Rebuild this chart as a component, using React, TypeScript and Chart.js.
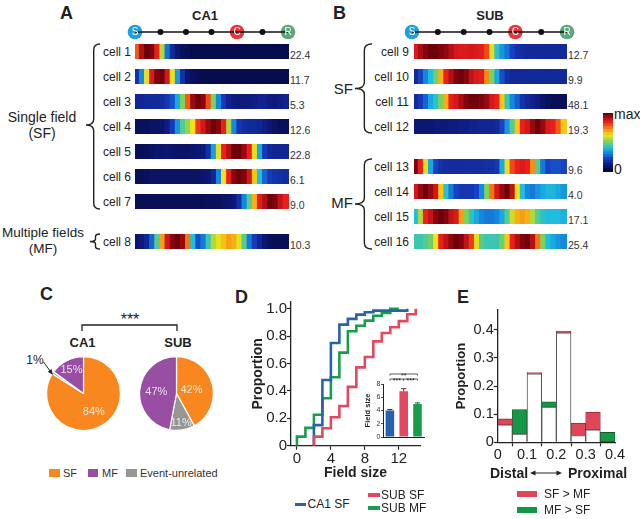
import React, { useEffect, useRef } from 'react';
import { Chart, registerables } from 'chart.js';

Chart.register(...registerables);

const FONT = '"Liberation Sans", Arial, Helvetica, sans-serif';
Chart.defaults.font.family = FONT;
Chart.defaults.color = '#222';

// ---------------- Panel A: CA1 rate maps ----------------
const CA1_CELLS = ['cell 1', 'cell 2', 'cell 3', 'cell 4', 'cell 5', 'cell 6', 'cell 7', 'cell 8'];
const CA1_PEAK_RATES = ['22.4', '11.7', '5.3', '12.6', '22.8', '6.1', '9.0', '10.3'];
const CA1_MAPS = [
  [0.78, 0.92, 1.0, 0.98, 0.85, 0.55, 0.27, 0.13, 0.07, 0.04, 0.03, 0.02, 0.02, 0.02, 0.02, 0.02, 0.02, 0.02, 0.02, 0.02, 0.02, 0.02, 0.02, 0.02, 0.02, 0.02, 0.02, 0.02, 0.02, 0.02],
  [0.15, 0.3, 0.6, 0.87, 0.98, 1.0, 0.88, 0.62, 0.33, 0.15, 0.07, 0.04, 0.03, 0.02, 0.02, 0.02, 0.02, 0.02, 0.02, 0.02, 0.02, 0.02, 0.02, 0.02, 0.02, 0.02, 0.02, 0.02, 0.02, 0.02],
  [0.12, 0.12, 0.13, 0.13, 0.13, 0.14, 0.17, 0.22, 0.35, 0.5, 0.78, 0.95, 1.0, 0.97, 0.8, 0.5, 0.3, 0.17, 0.11, 0.09, 0.08, 0.08, 0.09, 0.1, 0.11, 0.11, 0.09, 0.08, 0.1, 0.11],
  [0.04, 0.04, 0.04, 0.05, 0.05, 0.06, 0.1, 0.18, 0.32, 0.45, 0.52, 0.62, 0.82, 0.88, 0.95, 1.0, 0.97, 0.85, 0.55, 0.3, 0.17, 0.14, 0.13, 0.13, 0.12, 0.1, 0.07, 0.05, 0.04, 0.04],
  [0.03, 0.03, 0.04, 0.05, 0.06, 0.06, 0.07, 0.06, 0.05, 0.05, 0.05, 0.06, 0.07, 0.08, 0.15, 0.33, 0.6, 0.85, 0.92, 1.0, 1.0, 0.95, 0.85, 0.6, 0.35, 0.18, 0.13, 0.12, 0.12, 0.12],
  [0.03, 0.03, 0.04, 0.05, 0.05, 0.05, 0.05, 0.05, 0.05, 0.05, 0.05, 0.05, 0.05, 0.06, 0.07, 0.12, 0.3, 0.62, 0.85, 0.97, 1.0, 0.98, 0.88, 0.65, 0.38, 0.25, 0.18, 0.16, 0.15, 0.14],
  [0.03, 0.03, 0.03, 0.03, 0.03, 0.03, 0.03, 0.03, 0.03, 0.03, 0.03, 0.03, 0.03, 0.03, 0.04, 0.04, 0.04, 0.05, 0.06, 0.08, 0.15, 0.3, 0.45, 0.68, 0.86, 0.92, 1.0, 0.98, 0.9, 0.85],
  [0.06, 0.08, 0.12, 0.25, 0.45, 0.7, 0.88, 0.97, 1.0, 0.95, 0.75, 0.38, 0.22, 0.28, 0.42, 0.55, 0.6, 0.66, 0.7, 0.68, 0.6, 0.45, 0.28, 0.18, 0.12, 0.07, 0.04, 0.03, 0.03, 0.03],
];

// ---------------- Panel B: SUB rate maps ----------------
const SUB_CELLS = ['cell 9', 'cell 10', 'cell 11', 'cell 12', 'cell 13', 'cell 14', 'cell 15', 'cell 16'];
const SUB_PEAK_RATES = ['12.7', '9.9', '48.1', '19.3', '9.6', '4.0', '17.1', '25.4'];
const SUB_MAPS = [
  [0.87, 0.93, 0.97, 1.0, 1.0, 0.98, 0.96, 0.92, 0.88, 0.87, 0.87, 0.88, 0.87, 0.86, 0.8, 0.6, 0.4, 0.32, 0.27, 0.2, 0.15, 0.14, 0.13, 0.13, 0.13, 0.13, 0.13, 0.13, 0.13, 0.13],
  [0.13, 0.2, 0.3, 0.38, 0.48, 0.68, 0.85, 0.92, 0.98, 1.0, 0.97, 0.9, 0.87, 0.86, 0.72, 0.5, 0.35, 0.22, 0.15, 0.13, 0.13, 0.13, 0.13, 0.13, 0.13, 0.13, 0.13, 0.13, 0.13, 0.13],
  [0.13, 0.17, 0.25, 0.35, 0.4, 0.5, 0.68, 0.85, 0.88, 0.93, 0.98, 1.0, 1.0, 0.98, 0.95, 0.88, 0.85, 0.65, 0.42, 0.3, 0.24, 0.16, 0.13, 0.11, 0.09, 0.06, 0.04, 0.03, 0.03, 0.03],
  [0.07, 0.07, 0.07, 0.07, 0.08, 0.08, 0.08, 0.09, 0.09, 0.1, 0.1, 0.11, 0.11, 0.12, 0.12, 0.12, 0.13, 0.2, 0.32, 0.45, 0.65, 0.85, 0.88, 0.95, 1.0, 0.95, 0.87, 0.85, 0.78, 0.65],
  [0.98, 0.85, 0.6, 0.35, 0.2, 0.15, 0.14, 0.14, 0.14, 0.14, 0.14, 0.14, 0.14, 0.14, 0.15, 0.15, 0.17, 0.35, 0.6, 0.8, 0.85, 0.87, 0.85, 0.72, 0.45, 0.28, 0.2, 0.22, 0.22, 0.2],
  [0.88, 0.95, 1.0, 0.95, 0.88, 0.65, 0.4, 0.28, 0.2, 0.17, 0.17, 0.17, 0.2, 0.3, 0.5, 0.75, 0.88, 0.95, 1.0, 0.9, 0.62, 0.38, 0.3, 0.28, 0.32, 0.35, 0.37, 0.37, 0.35, 0.32],
  [0.38, 0.55, 0.85, 0.9, 0.97, 1.0, 0.98, 0.9, 0.87, 0.7, 0.5, 0.4, 0.35, 0.3, 0.28, 0.28, 0.3, 0.35, 0.45, 0.58, 0.68, 0.7, 0.68, 0.55, 0.45, 0.4, 0.38, 0.38, 0.38, 0.36],
  [0.42, 0.42, 0.45, 0.48, 0.62, 0.85, 0.9, 0.96, 1.0, 0.98, 0.9, 0.82, 0.6, 0.45, 0.42, 0.42, 0.42, 0.48, 0.65, 0.85, 0.92, 0.98, 1.0, 0.92, 0.75, 0.5, 0.38, 0.35, 0.32, 0.3],
];

const TRACK_NODES = ['S', '', '', '', 'C', '', 'R'];
const COLORBAR_LEVELS = [1, 0.95, 0.9, 0.85, 0.8, 0.75, 0.7, 0.65, 0.6, 0.55, 0.5, 0.45, 0.4, 0.35, 0.3, 0.25, 0.2, 0.15, 0.1, 0.05, 0];

// ---------------- Panel C: pies ----------------
const PIE_LABELS = ['SF', 'Event-unrelated', 'MF'];
const CA1_PIE = [84, 1, 15];
const SUB_PIE = [42, 11, 47];

// ---------------- Panel D: cumulative field size ----------------
const CA1_SF_SIZES = [2, 3, 4, 5, 6, 7, 8, 9, 13];
const CA1_SF_CUM = [0.15, 0.48, 0.75, 0.885, 0.927, 0.958, 0.975, 0.987, 1.0];
const SUB_SF_SIZES = [2, 3, 4, 5, 6, 7, 8, 9, 10, 11, 12, 13, 14];
const SUB_SF_CUM = [0.066, 0.127, 0.208, 0.29, 0.43, 0.572, 0.648, 0.762, 0.824, 0.865, 0.91, 0.96, 1.0];
const SUB_MF_SIZES = [0, 1, 2, 3, 4, 5, 6, 7, 8, 9, 10, 11, 12];
const SUB_MF_CUM = [0.066, 0.13, 0.226, 0.347, 0.5, 0.68, 0.836, 0.877, 0.914, 0.95, 0.97, 1.0, 1.0];
const D_X_TICKS = [0, 4, 8, 12];
const D_Y_TICKS = [0, 0.2, 0.4, 0.6, 0.8, 1.0];

const INSET_GROUPS = ['CA1 SF', 'SUB SF', 'SUB MF'];
const INSET_MEANS = [4.0, 6.9, 5.0];
const INSET_SEM = [0.15, 0.4, 0.15];
const INSET_TICKS = [0, 2, 4, 6, 8];
const INSET_SIG = [
  { from: 0, to: 2, text: '**', level: 2 },
  { from: 0, to: 1, text: '***', level: 1 },
  { from: 1, to: 2, text: '***', level: 1 },
];

// ---------------- Panel E: distribution along distal-proximal ----------------
const E_BIN_CENTERS = [0.025, 0.075, 0.125, 0.175, 0.225, 0.275, 0.325, 0.375];
const E_SF = [0.083, 0.029, 0.248, 0.125, 0.395, 0.068, 0.107, 0];
const E_MF = [0.062, 0.116, 0.243, 0.144, 0.389, 0.024, 0.044, 0.035];
const E_X_TICKS = [0, 0.1, 0.2, 0.3, 0.4];
const E_Y_TICKS = [0, 0.1, 0.2, 0.3, 0.4];

// ---------------- Styles ----------------
const BLUE = 'rgb(40,98,172)';
const RED = 'rgb(226,72,94)';
const GREEN = 'rgb(24,158,74)';
const E_RED = 'rgb(222,70,90)';
const E_GREEN = 'rgb(22,150,70)';
const PIE_COLORS = ['rgb(247,135,30)', 'rgb(150,150,150)', 'rgb(152,78,163)'];
const NODE_COLORS: Record<string, string> = { S: 'rgb(30,160,220)', C: 'rgb(232,52,58)', R: 'rgb(92,166,122)' };
const ROW_H = 15;
const A_ROW_X = 135;
const A_ROW_W = 154;
const A_ROW_TOPS = [44, 69, 94, 119, 144, 169, 194, 234];
const B_ROW_X = 414;
const B_ROW_W = 153;
const B_ROW_TOPS = [44, 69, 94, 119, 159, 184, 209, 234];

// colormap (jet-like, as printed)
const CMAP: [number, number, number, number][] = [
  [0.0, 5, 8, 65],
  [0.1, 15, 30, 135],
  [0.2, 25, 65, 195],
  [0.3, 20, 135, 222],
  [0.38, 30, 190, 222],
  [0.5, 125, 210, 90],
  [0.62, 250, 225, 20],
  [0.74, 245, 125, 20],
  [0.85, 235, 30, 30],
  [1.0, 110, 0, 10],
];
function jet(v: number) {
  const t = Math.max(0, Math.min(1, v));
  for (let i = 1; i < CMAP.length; i++) {
    const a = CMAP[i - 1];
    const b = CMAP[i];
    if (t <= b[0]) {
      const f = (t - a[0]) / (b[0] - a[0]);
      const m = (k: number) => Math.round(a[k] + (b[k] - a[k]) * f);
      return `rgb(${m(1)},${m(2)},${m(3)})`;
    }
  }
  return 'rgb(110,0,10)';
}

const BASE = {
  animation: false,
  responsive: false,
  events: [],
  plugins: { legend: { display: false }, tooltip: { enabled: false } },
};

function ChartCanvas({ x, y, w, h, make }: { x: number; y: number; w: number; h: number; make: () => any }) {
  const ref = useRef<HTMLCanvasElement>(null);
  useEffect(() => {
    const chart = new Chart(ref.current as HTMLCanvasElement, make());
    return () => chart.destroy();
  }, []);
  return <canvas ref={ref} width={w} height={h} style={{ position: 'absolute', left: x, top: y, width: w, height: h }} />;
}

function Label({ x, y, text, size = 12, bold = false, align = 'left', color = '#222' }: any) {
  const tx = align === 'center' ? '-50%' : align === 'right' ? '-100%' : '0';
  return (
    <div style={{ position: 'absolute', left: x, top: y, transform: `translate(${tx}, -50%)`, fontFamily: FONT, fontSize: size, fontWeight: bold ? 'bold' : 'normal', color, whiteSpace: 'nowrap', lineHeight: 1 }}>
      {text}
    </div>
  );
}

function rowConfig(values: number[], width: number) {
  return {
    type: 'bar',
    data: {
      labels: values.map((_, i) => String(i)),
      datasets: [{ data: values.map(() => 1), backgroundColor: values.map(jet), borderWidth: 0, barThickness: Math.ceil(width / values.length) + 1 }],
    },
    options: { ...BASE, layout: { padding: 0 }, scales: { x: { display: false }, y: { display: false, min: 0, max: 1 } } },
  };
}

const nodeLetters = {
  id: 'nodeLetters',
  afterDatasetsDraw(chart: any) {
    const { ctx } = chart;
    const meta = chart.getDatasetMeta(1);
    const big = TRACK_NODES.map((n, i) => ({ n, i })).filter((o) => o.n);
    meta.data.forEach((pt: any, k: number) => {
      ctx.save();
      ctx.font = `10px ${FONT}`;
      ctx.fillStyle = '#fff';
      ctx.textAlign = 'center';
      ctx.textBaseline = 'middle';
      ctx.fillText(big[k].n, pt.x, pt.y + 0.5);
      ctx.restore();
    });
  },
};

function trackConfig() {
  const all = TRACK_NODES.map((n, i) => ({ x: i, y: 0, n }));
  const big = all.filter((p) => p.n);
  const small = all.filter((p) => !p.n);
  return {
    type: 'scatter',
    data: {
      datasets: [
        { data: all.map((p) => ({ x: p.x, y: p.y })), showLine: true, borderColor: '#111', borderWidth: 1.3, pointRadius: 0, clip: false },
        { data: big.map((p) => ({ x: p.x, y: p.y })), showLine: false, pointRadius: 7.3, pointBackgroundColor: big.map((p) => NODE_COLORS[p.n]), pointBorderWidth: 0, clip: false },
        { data: small.map((p) => ({ x: p.x, y: p.y })), showLine: false, pointRadius: 3, pointBackgroundColor: '#111', pointBorderWidth: 0, clip: false },
      ],
    },
    options: { ...BASE, layout: { padding: { left: 10, right: 10, top: 0, bottom: 0 } }, scales: { x: { type: 'linear', display: false, min: 0, max: TRACK_NODES.length - 1 }, y: { display: false, min: -1, max: 1 } } },
    plugins: [nodeLetters],
  };
}

function colorbarConfig() {
  return {
    type: 'bar',
    data: { labels: COLORBAR_LEVELS.map(String), datasets: [{ data: COLORBAR_LEVELS.map(() => 1), backgroundColor: COLORBAR_LEVELS.map(jet), borderWidth: 0, barThickness: 4 }] },
    options: { ...BASE, indexAxis: 'y', layout: { padding: 0 }, scales: { x: { display: false, min: 0, max: 1 }, y: { display: false } } },
  };
}

function pieLabelPlugin(radial: number[]) {
  return {
    id: 'pieLabels',
    afterDatasetsDraw(chart: any) {
      const { ctx } = chart;
      const values = chart.data.datasets[0].data;
      chart.getDatasetMeta(0).data.forEach((arc: any, i: number) => {
        if (!radial[i]) return;
        const mid = (arc.startAngle + arc.endAngle) / 2;
        const r = arc.outerRadius * radial[i];
        ctx.save();
        ctx.font = `11px ${FONT}`;
        ctx.fillStyle = 'rgba(255,255,255,0.8)';
        ctx.textAlign = 'center';
        ctx.textBaseline = 'middle';
        ctx.fillText(values[i] + '%', arc.x + Math.cos(mid) * r, arc.y + Math.sin(mid) * r);
        ctx.restore();
      });
    },
  };
}

function pieConfig(values: number[], radial: number[]) {
  return {
    type: 'pie',
    data: { labels: PIE_LABELS, datasets: [{ data: values, backgroundColor: PIE_COLORS, borderColor: '#fff', borderWidth: 1.2 }] },
    options: { ...BASE, layout: { padding: 1 } },
    plugins: [pieLabelPlugin(radial)],
  };
}

const axisLook = (size: number) => ({
  grid: { display: true, drawOnChartArea: false, drawTicks: true, tickLength: 4, tickWidth: 1.2, color: '#222' },
  border: { display: true, color: '#222', width: 1.3 },
  ticks: { font: { size }, color: '#222', padding: 0, maxRotation: 0, autoSkip: false },
});

const cdfPoints = (sizes: number[], cum: number[]) => [{ x: sizes[0], y: 0 }, ...sizes.map((s, i) => ({ x: s, y: cum[i] }))];
const fmt1 = (v: any) => (Number(v) === 0 ? '0' : Number(v).toFixed(1));

function cdfConfig() {
  const lx = axisLook(15);
  const ly = axisLook(15);
  return {
    type: 'line',
    data: {
      datasets: [
        { label: 'SUB SF', data: cdfPoints(SUB_SF_SIZES, SUB_SF_CUM), borderColor: RED },
        { label: 'CA1 SF', data: cdfPoints(CA1_SF_SIZES, CA1_SF_CUM), borderColor: BLUE },
        { label: 'SUB MF', data: cdfPoints(SUB_MF_SIZES, SUB_MF_CUM), borderColor: GREEN },
      ].map((d) => ({ ...d, stepped: true, fill: false, borderWidth: 2.6, pointRadius: 0 })),
    },
    options: {
      ...BASE,
      layout: { padding: { top: 12, right: 10, left: 0, bottom: 0 } },
      scales: {
        x: {
          type: 'linear', min: -0.7, max: 14.5, ...lx,
          ticks: { ...lx.ticks },
          afterBuildTicks: (s: any) => { s.ticks = D_X_TICKS.map((v) => ({ value: v })); },
          afterFit: (s: any) => { s.height = 44.3; },
          title: { display: true, text: 'Field size', font: { size: 14, weight: 'bold' }, color: '#222', padding: { top: 0, bottom: 8 } },
        },
        y: {
          type: 'linear', min: 0, max: 1.05, ...ly,
          ticks: { ...ly.ticks, callback: fmt1 },
          afterBuildTicks: (s: any) => { s.ticks = D_Y_TICKS.map((v) => ({ value: v })); },
          afterFit: (s: any) => { s.width = 71; },
          title: { display: true, text: 'Proportion', font: { size: 14, weight: 'bold' }, color: '#222', padding: { top: 29.5, bottom: 0 } },
        },
      },
    },
  };
}

const insetDecor = {
  id: 'insetDecor',
  afterDatasetsDraw(chart: any) {
    const { ctx, chartArea, scales } = chart;
    const meta = chart.getDatasetMeta(0);
    ctx.save();
    meta.data.forEach((bar: any, i: number) => {
      const top = scales.y.getPixelForValue(INSET_MEANS[i] + INSET_SEM[i]);
      const half = bar.width * 0.3;
      ctx.strokeStyle = ['rgb(25,60,120)', 'rgb(150,30,45)', 'rgb(15,100,45)'][i];
      ctx.lineWidth = 1;
      ctx.beginPath();
      ctx.moveTo(bar.x, bar.y);
      ctx.lineTo(bar.x, top);
      ctx.moveTo(bar.x - half, top);
      ctx.lineTo(bar.x + half, top);
      ctx.stroke();
    });
    INSET_SIG.forEach((s) => {
      const x1 = scales.x.getPixelForValue(s.from);
      const x2 = scales.x.getPixelForValue(s.to);
      const yy = chartArea.top - 5 * s.level;
      ctx.strokeStyle = '#333';
      ctx.lineWidth = 0.8;
      ctx.beginPath();
      ctx.moveTo(x1, yy + 1.5);
      ctx.lineTo(x1, yy);
      ctx.lineTo(x2, yy);
      ctx.lineTo(x2, yy + 1.5);
      ctx.stroke();
      ctx.fillStyle = '#222';
      ctx.font = `7px ${FONT}`;
      ctx.textAlign = 'center';
      ctx.textBaseline = 'alphabetic';
      ctx.fillText(s.text, (x1 + x2) / 2, yy + 3.5);
    });
    ctx.restore();
  },
};

function insetConfig() {
  const l = axisLook(7);
  return {
    type: 'bar',
    data: { labels: INSET_GROUPS, datasets: [{ data: INSET_MEANS, backgroundColor: [BLUE, RED, GREEN], barPercentage: 0.62, categoryPercentage: 1 }] },
    options: {
      ...BASE,
      layout: { padding: { top: 16, right: 5.6, left: 0, bottom: 0 } },
      scales: {
        x: { grid: { display: false }, ticks: { display: false }, border: { display: true, color: '#222', width: 1 }, afterFit: (s: any) => { s.height = 11; } },
        y: {
          min: 0, max: 8,
          grid: { ...l.grid, tickLength: 2, tickWidth: 0.8 },
          border: { display: true, color: '#222', width: 1 },
          ticks: { font: { size: 7 }, color: '#333', padding: 0.5 },
          afterBuildTicks: (s: any) => { s.ticks = INSET_TICKS.map((v) => ({ value: v })); },
          afterFit: (s: any) => { s.width = 28; },
          title: { display: true, text: 'Field size', font: { size: 7.5, weight: 'bold' }, color: '#222', padding: { top: 8.5, bottom: 0 } },
        },
      },
    },
    plugins: [insetDecor],
  };
}

function histConfig() {
  const lx = axisLook(14.5);
  const ly = axisLook(14.5);
  const base = E_BIN_CENTERS.map((x, i) => ({ x, y: Math.min(E_SF[i], E_MF[i]) || null }));
  const sfMore = E_BIN_CENTERS.map((x, i) => ({ x, y: E_SF[i] > E_MF[i] ? [E_MF[i], E_SF[i]] : null }));
  const mfMore = E_BIN_CENTERS.map((x, i) => ({ x, y: E_MF[i] > E_SF[i] ? [E_SF[i], E_MF[i]] : null }));
  const common = { barPercentage: 1, categoryPercentage: 1, grouped: false };
  return {
    type: 'bar',
    data: {
      datasets: [
        { label: 'base', data: base, backgroundColor: '#fff', borderColor: '#555', borderWidth: 1, ...common },
        { label: 'SF > MF', data: sfMore, backgroundColor: E_RED, borderColor: 'rgb(150,45,55)', borderWidth: 0.8, borderSkipped: false, ...common },
        { label: 'MF > SF', data: mfMore, backgroundColor: E_GREEN, borderColor: 'rgb(15,95,45)', borderWidth: 0.8, borderSkipped: false, ...common },
      ],
    },
    options: {
      ...BASE,
      layout: { padding: { top: 20, right: 20, left: 0, bottom: 0 } },
      scales: {
        x: {
          type: 'linear', min: 0, max: 0.4, offset: false, ...lx,
          ticks: { ...lx.ticks, callback: fmt1 },
          afterBuildTicks: (s: any) => { s.ticks = E_X_TICKS.map((v) => ({ value: v })); },
          afterFit: (s: any) => { s.height = 47.7; },
        },
        y: {
          type: 'linear', min: 0, max: 0.47, ...ly,
          ticks: { ...ly.ticks, callback: fmt1 },
          afterBuildTicks: (s: any) => { s.ticks = E_Y_TICKS.map((v) => ({ value: v })); },
          afterFit: (s: any) => { s.width = 77.7; },
          title: { display: true, text: 'Proportion', font: { size: 13, weight: 'bold' }, color: '#222', padding: { top: 34, bottom: 0 } },
        },
      },
    },
  };
}

function bracePath(x: number, y1: number, ym: number, y2: number, d: number) {
  const s = x - d * 0.45;
  const r = Math.min(6, (ym - y1) / 3, (y2 - ym) / 3);
  return `M ${x} ${y1} Q ${s} ${y1} ${s} ${y1 + r} L ${s} ${ym - r} Q ${s} ${ym} ${x - d} ${ym} Q ${s} ${ym} ${s} ${ym + r} L ${s} ${y2 - r} Q ${s} ${y2} ${x} ${y2}`;
}

function Swatch({ x, y, w, h, color }: any) {
  return <div style={{ position: 'absolute', left: x, top: y, width: w, height: h, background: color }} />;
}

export default function App() {
  return (
    <div style={{ position: 'absolute', left: 0, top: 0, width: 640, height: 519, background: '#fff', overflow: 'hidden', fontFamily: FONT }}>
      {/* Panel A */}
      <Label x={60} y={12.5} text="A" size={18} bold />
      <Label x={205} y={15} text="CA1" size={13} bold align="center" />
      <ChartCanvas x={125} y={22} w={173} h={20} make={trackConfig} />
      {CA1_MAPS.map((m, i) => (
        <React.Fragment key={'a' + i}>
          <ChartCanvas x={A_ROW_X} y={A_ROW_TOPS[i]} w={A_ROW_W} h={ROW_H} make={() => rowConfig(m, A_ROW_W)} />
          <Label x={131} y={A_ROW_TOPS[i] + 7.5} text={CA1_CELLS[i]} size={12} align="right" />
          <Label x={A_ROW_X + A_ROW_W + 1} y={A_ROW_TOPS[i] + 10.5} text={CA1_PEAK_RATES[i]} size={10.5} color="#333" />
        </React.Fragment>
      ))}
      <Label x={42} y={117} text="Single field" size={14} align="center" />
      <Label x={42} y={133} text="(SF)" size={14} align="center" />
      <Label x={43} y={233} text="Multiple fields" size={13.5} align="center" />
      <Label x={43} y={249} text="(MF)" size={13.5} align="center" />

      {/* Panel B */}
      <Label x={333} y={12.5} text="B" size={18} bold />
      <Label x={490} y={15} text="SUB" size={13} bold align="center" />
      <ChartCanvas x={402} y={22} w={175} h={20} make={trackConfig} />
      {SUB_MAPS.map((m, i) => (
        <React.Fragment key={'b' + i}>
          <ChartCanvas x={B_ROW_X} y={B_ROW_TOPS[i]} w={B_ROW_W} h={ROW_H} make={() => rowConfig(m, B_ROW_W)} />
          <Label x={409} y={B_ROW_TOPS[i] + 7.5} text={SUB_CELLS[i]} size={12} align="right" />
          <Label x={B_ROW_X + B_ROW_W + 1} y={B_ROW_TOPS[i] + 10.5} text={SUB_PEAK_RATES[i]} size={10.5} color="#333" />
        </React.Fragment>
      ))}
      <Label x={353} y={88} text="SF" size={15} align="right" />
      <Label x={353} y={202} text="MF" size={15} align="right" />
      <ChartCanvas x={603} y={113} w={10} h={59} make={colorbarConfig} />
      <Label x={614} y={114} text="max" size={14} />
      <Label x={614} y={169} text="0" size={14} />

      {/* Panel C */}
      <Label x={40} y={293.5} text="C" size={18} bold />
      <Label x={130} y={320} text="***" size={16} align="center" />
      <Label x={82.5} y={342} text="CA1" size={13} bold align="center" />
      <Label x={178} y={342} text="SUB" size={13} bold align="center" />
      <ChartCanvas x={45} y={355} w={77} h={77} make={() => pieConfig(CA1_PIE, [0.58, 0, 0.72])} />
      <ChartCanvas x={138} y={355} w={77} h={77} make={() => pieConfig(SUB_PIE, [0.42, 0.8, 0.55])} />
      <Label x={35} y={360} text="1%" size={12} align="center" />
      <Swatch x={49} y={469} w={11} h={8} color={PIE_COLORS[0]} />
      <Label x={63} y={473} text={PIE_LABELS[0]} size={11} color="#333" />
      <Swatch x={88} y={469} w={10} h={8} color={PIE_COLORS[2]} />
      <Label x={102} y={473} text={PIE_LABELS[2]} size={11} color="#333" />
      <Swatch x={126} y={469} w={11} h={8} color={PIE_COLORS[1]} />
      <Label x={140} y={473} text={PIE_LABELS[1]} size={11} color="#333" />

      {/* Panel D */}
      <Label x={235} y={296.5} text="D" size={18} bold />
      <ChartCanvas x={220} y={290} w={210} h={200} make={cdfConfig} />
      <ChartCanvas x={355} y={368} w={75} h={80} make={insetConfig} />
      <Swatch x={295} y={502.5} w={11} h={3.5} color={BLUE} />
      <Label x={307.5} y={504} text="CA1 SF" size={12} />
      <Swatch x={368} y={493.3} w={12} h={3.5} color={RED} />
      <Label x={381} y={495} text="SUB SF" size={12} />
      <Swatch x={368} y={506} w={12} h={3.5} color={GREEN} />
      <Label x={381} y={508} text="SUB MF" size={12} />

      {/* Panel E */}
      <Label x={457} y={296.5} text="E" size={18} bold />
      <ChartCanvas x={420} y={290} w={215} h={200} make={histConfig} />
      <Label x={490} y={473} text="Distal" size={14} bold />
      <Label x={568} y={473} text="Proximal" size={14} bold />
      <Swatch x={517} y={491} w={20} h={6} color={E_RED} />
      <Label x={544} y={493.5} text="SF > MF" size={12} />
      <Swatch x={517} y={507} w={20} h={6} color={E_GREEN} />
      <Label x={544} y={509.5} text="MF > SF" size={12} />

      <svg width={640} height={519} style={{ position: 'absolute', left: 0, top: 0, pointerEvents: 'none' }}>
        <g fill="none" stroke="#222" strokeWidth={1.4}>
          <path d={bracePath(100, 44, 125, 209, 14)} />
          <path d={bracePath(100, 234, 241.5, 249, 10)} />
          <path d={bracePath(372, 44, 88.5, 133, 17)} />
          <path d={bracePath(372, 159, 204, 249, 17)} />
          <path d="M 82 331 L 82 325 L 177 325 L 177 331" strokeWidth={1.3} />
          <path d="M 43.5 362 L 50.5 371.5" strokeWidth={1} />
          <path d="M 534 473 L 558 473" strokeWidth={1} />
        </g>
        <polygon points="53,375 47.8,371.8 51.5,369.1" fill="#222" />
        <polygon points="530,473 535.5,470.6 535.5,475.4" fill="#222" />
        <polygon points="562,473 556.5,470.6 556.5,475.4" fill="#222" />
      </svg>
    </div>
  );
}
